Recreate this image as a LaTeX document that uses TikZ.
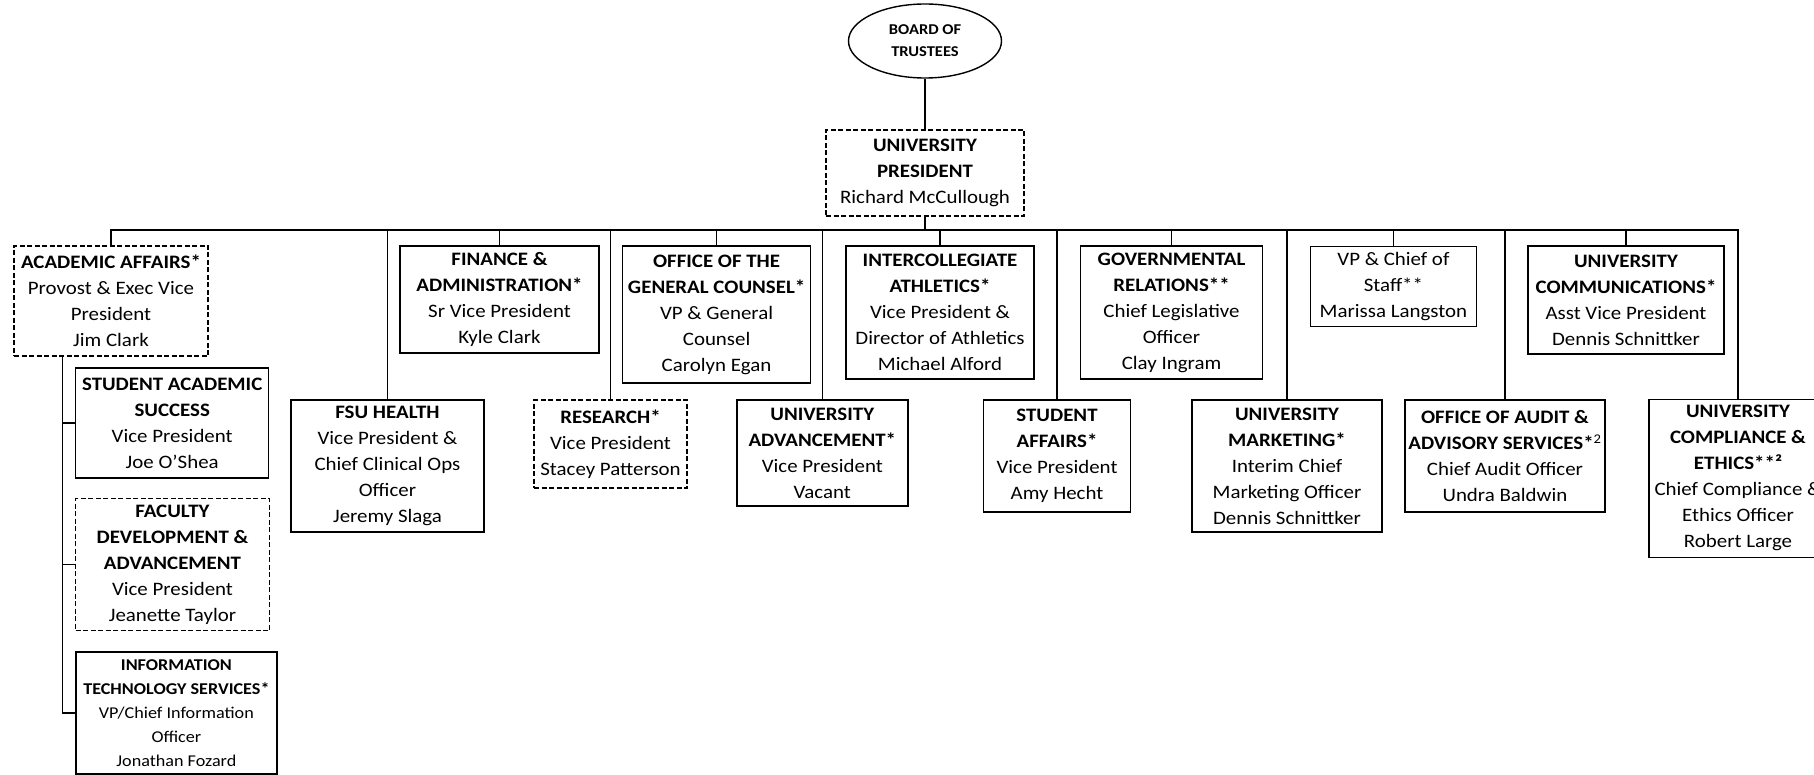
\documentclass[tikz,border=0pt]{standalone}
\usepackage{fontspec}
\setmainfont{Carlito}[FakeStretch=1.1]
\usetikzlibrary{shapes.geometric}
\begin{document}
\begin{tikzpicture}[x=1pt,y=-1pt,
  box/.style={draw, line width=1.4pt, rectangle, inner sep=0pt, align=center, font=\fontsize{19}{26}\selectfont},
  dbox/.style={box, dash pattern=on 5pt off 2.5pt},
  sz/.style 2 args={minimum width=#1pt, minimum height=#2pt},
  conn/.style={line width=1.5pt},
]
\useasboundingbox (0,0) rectangle (1814,775);

\node[ellipse, draw, line width=1.4pt, sz={153}{74}, inner sep=0pt, align=center, font=\bfseries\fontsize{15}{22}\selectfont] (bot) at (925,41) {BOARD OF\\TRUSTEES};

\node[dbox, sz={198}{86}] (pres) at (925,173) {\textbf{UNIVERSITY}\\\textbf{PRESIDENT}\\Richard McCullough};

\node[dbox, sz={194}{110}] (aa) at (111,301) {\textbf{ACADEMIC AFFAIRS*}\\Provost \& Exec Vice\\President\\Jim Clark};
\node[box, sz={199}{107}] (fin) at (499.5,299.5) {\textbf{FINANCE \&}\\\textbf{ADMINISTRATION*}\\Sr Vice President\\Kyle Clark};
\node[box, sz={193}{132}] (fsu) at (387.5,466) {\textbf{FSU HEALTH}\\Vice President \&\\Chief Clinical Ops\\Officer\\Jeremy Slaga};
\node[dbox, sz={153}{88}] (res) at (610.5,444) {\textbf{RESEARCH*}\\Vice President\\Stacey Patterson};
\node[box, sz={188}{137}] (ogc) at (716.6,314.5) {\textbf{OFFICE OF THE}\\\textbf{GENERAL COUNSEL*}\\VP \& General\\Counsel\\Carolyn Egan};
\node[box, sz={171}{106}] (adv) at (822.3,453) {\textbf{UNIVERSITY}\\\textbf{ADVANCEMENT*}\\Vice President\\Vacant};
\node[box, sz={188}{133}] (ath) at (940,312.5) {\textbf{INTERCOLLEGIATE}\\\textbf{ATHLETICS*}\\Vice President \&\\Director of Athletics\\Michael Alford};
\node[box, sz={147}{112}] (sa) at (1057,456) {\textbf{STUDENT}\\\textbf{AFFAIRS*}\\Vice President\\Amy Hecht};
\node[box, sz={182}{133}] (gov) at (1171.5,312.5) {\textbf{GOVERNMENTAL}\\\textbf{RELATIONS**}\\Chief Legislative\\Officer\\Clay Ingram};
\node[box, sz={190}{132}] (mkt) at (1287,466) {\textbf{UNIVERSITY}\\\textbf{MARKETING*}\\Interim Chief\\Marketing Officer\\Dennis Schnittker};
\node[box, sz={166}{80}] (cos) at (1393.4,286.7) {VP \& Chief of\\Staff**\\Marissa Langston};
\node[box, sz={200}{112}] (aud) at (1505,456) {\textbf{OFFICE OF AUDIT \&}\\\textbf{ADVISORY SERVICES*}\textsuperscript{2}\\Chief Audit Officer\\Undra Baldwin};
\node[box, sz={196}{108}] (com) at (1626,300) {\textbf{UNIVERSITY}\\\textbf{COMMUNICATIONS*}\\Asst Vice President\\Dennis Schnittker};
\node[box, sz={178}{158}] (comp) at (1738,478.3) {\textbf{UNIVERSITY}\\\textbf{COMPLIANCE \&}\\\textbf{ETHICS**²}\\Chief Compliance \&\\Ethics Officer\\Robert Large};

\node[box, sz={193}{110}] (sas) at (172.2,422.9) {\textbf{STUDENT ACADEMIC}\\\textbf{SUCCESS}\\Vice President\\Joe O'Shea};
\node[dbox, sz={194}{132}] (fdev) at (172.5,564.7) {\textbf{FACULTY}\\\textbf{DEVELOPMENT \&}\\\textbf{ADVANCEMENT}\\Vice President\\Jeanette Taylor};
\node[box, sz={201}{122}, font=\fontsize{16.5}{24}\selectfont] (it) at (176.4,713) {\textbf{INFORMATION}\\\textbf{TECHNOLOGY SERVICES*}\\VP/Chief Information\\Officer\\Jonathan Fozard};

\coordinate (bus) at (0,230);
\draw[conn] (bot) -- (pres);
\draw[conn] (pres.south) -- (pres.south |- bus);
\draw[conn] (aa.north) -- (aa.north |- bus) -- (comp.north |- bus) -- (comp.north);
\foreach \n in {fin,fsu,res,ogc,adv,ath,sa,gov,mkt,cos,aud,com}
  \draw[conn] (\n.north) -- (\n.north |- bus);

\coordinate (spine) at ([xshift=-12.7pt]sas.west);
\draw[conn] (aa.south -| spine) -- (spine |- it.west) -- (it.west);
\draw[conn] (spine |- sas.west) -- (sas.west);
\draw[conn] (spine |- fdev.west) -- (fdev.west);
\end{tikzpicture}
\end{document}
